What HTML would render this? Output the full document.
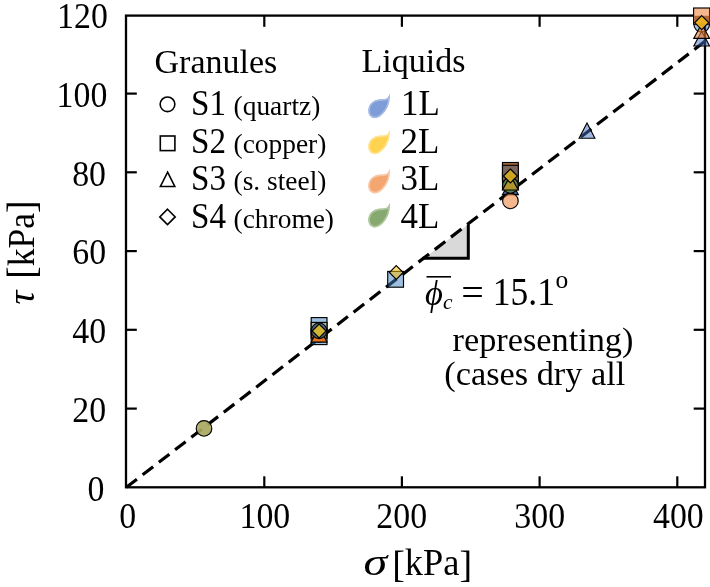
<!DOCTYPE html>
<html lang="en">
<head>
<meta charset="utf-8">
<title>Shear stress vs normal stress</title>
<style>
html,body{margin:0;padding:0;background:#fff;}
body{width:710px;height:587px;overflow:hidden;position:relative;}
svg{display:block;position:absolute;left:0;top:0;will-change:transform;}
text{font-family:"Liberation Serif","DejaVu Serif",serif;fill:#000;}
.it{font-style:italic;}
.mk{stroke:#000;stroke-width:1.15;stroke-linejoin:miter;}
</style>
</head>
<body>
<svg width="710" height="587" viewBox="0 0 710 587">
<rect x="0" y="0" width="710" height="587" fill="#fff"/>

<g id="slope">
<polygon points="424,258.3 468.3,258.3 468.3,224.2" fill="#d9d9d9"/>
<polyline points="422.5,258.3 468.3,258.3 468.3,224.5" fill="none" stroke="#000" stroke-width="3" stroke-linejoin="miter"/>
</g>
<line id="fit" x1="126.4" y1="487.3" x2="705" y2="41.3" stroke="#000" stroke-width="3.2" stroke-dasharray="13.3 7.19"/>
<rect id="frame" x="126" y="15.6" width="579" height="471.7" fill="none" stroke="#000" stroke-width="2.3"/>
<g id="ticks" stroke="#000" stroke-width="2.2">
<line x1="264.3" y1="487" x2="264.3" y2="476.3"/>
<line x1="264.3" y1="16" x2="264.3" y2="26.8"/>
<line x1="401.9" y1="487" x2="401.9" y2="476.3"/>
<line x1="401.9" y1="16" x2="401.9" y2="26.8"/>
<line x1="539.6" y1="487" x2="539.6" y2="476.3"/>
<line x1="539.6" y1="16" x2="539.6" y2="26.8"/>
<line x1="677.3" y1="487" x2="677.3" y2="476.3"/>
<line x1="677.3" y1="16" x2="677.3" y2="26.8"/>
<line x1="126" y1="408.6" x2="136.8" y2="408.6"/>
<line x1="705" y1="408.6" x2="693.7" y2="408.6"/>
<line x1="126" y1="329.8" x2="136.8" y2="329.8"/>
<line x1="705" y1="329.8" x2="693.7" y2="329.8"/>
<line x1="126" y1="251.1" x2="136.8" y2="251.1"/>
<line x1="705" y1="251.1" x2="693.7" y2="251.1"/>
<line x1="126" y1="172.3" x2="136.8" y2="172.3"/>
<line x1="705" y1="172.3" x2="693.7" y2="172.3"/>
<line x1="126" y1="93.6" x2="136.8" y2="93.6"/>
<line x1="705" y1="93.6" x2="693.7" y2="93.6"/>
</g>
<g id="ylabels">
<text transform="translate(107.8 28.2) scale(0.94 1)" font-size="36" text-anchor="end">120</text>
<text transform="translate(107.3 107.3) scale(0.94 1)" font-size="36" text-anchor="end">100</text>
<text transform="translate(106.0 186.0) scale(0.94 1)" font-size="36" text-anchor="end">80</text>
<text transform="translate(106.2 264.4) scale(0.94 1)" font-size="36" text-anchor="end">60</text>
<text transform="translate(106.2 343.1) scale(0.94 1)" font-size="36" text-anchor="end">40</text>
<text transform="translate(106.2 421.9) scale(0.94 1)" font-size="36" text-anchor="end">20</text>
<text transform="translate(104.3 500.6) scale(0.94 1)" font-size="36" text-anchor="end">0</text>
</g>
<g id="xlabels">
<text transform="translate(127.6 527.6) scale(0.94 1)" font-size="36" text-anchor="middle">0</text>
<text transform="translate(264.9 527.6) scale(0.94 1)" font-size="36" text-anchor="middle">100</text>
<text transform="translate(401.7 527.6) scale(0.94 1)" font-size="36" text-anchor="middle">200</text>
<text transform="translate(539.7 527.6) scale(0.94 1)" font-size="36" text-anchor="middle">300</text>
<text transform="translate(678.4 527.6) scale(0.94 1)" font-size="36" text-anchor="middle">400</text>
</g>
<text transform="translate(363.6 575.0) scale(1.3 1)" font-size="37" text-anchor="start" class='it'>σ</text>
<text transform="translate(392.2 575.2) scale(0.985 1)" font-size="37" text-anchor="start"><tspan dy="1.6" font-size="38.5">[</tspan><tspan dy="-1.6">kPa</tspan><tspan dy="1.6" font-size="38.5">]</tspan></text>
<text class="it" font-size="37" transform="translate(33.7 304.6) rotate(-90) scale(1.05 1)">τ</text>
<text font-size="37" transform="translate(33.7 278.8) rotate(-90) scale(0.96 1)"><tspan dy="1.6" font-size="39">[</tspan><tspan dy="-1.6">kPa</tspan><tspan dy="1.6" font-size="39">]</tspan></text>
<g id="granules">
<text font-size="34" x="154.5" y="72.9">Granules</text>
<circle cx="167.5" cy="104.3" r="7.35" fill="none" stroke="#000" stroke-width="1.6"/>
<rect x="160.3" y="136" width="14.6" height="14.6" fill="none" stroke="#000" stroke-width="1.6"/>
<polygon points="167.6,172.2 174.8,186.5 160.4,186.5" fill="none" stroke="#000" stroke-width="1.6"/>
<polygon points="167.5,209.2 175.2,216.9 167.5,224.6 159.8,216.9" fill="none" stroke="#000" stroke-width="1.6"/>
<text transform="translate(191.0 115.0) scale(0.92 1)" font-size="36" text-anchor="start">S1</text>
<text font-size="27.4" x="233.6" y="115.0">(quartz)</text>
<text transform="translate(191.0 152.7) scale(0.92 1)" font-size="36" text-anchor="start">S2</text>
<text font-size="27.4" x="233.6" y="152.7">(copper)</text>
<text transform="translate(191.0 190.3) scale(0.92 1)" font-size="36" text-anchor="start">S3</text>
<text font-size="27.4" x="233.6" y="190.3">(s. steel)</text>
<text transform="translate(191.0 228.0) scale(0.92 1)" font-size="36" text-anchor="start">S4</text>
<text font-size="27.4" x="233.6" y="228.0">(chrome)</text>
</g>
<g id="liquids">
<defs><clipPath id="dc"><path d="M21.5 0.3 C22.4 6 21.2 12 18 17 C15 22 10 25.4 6.5 25.2 C2.5 25 0 21.5 0.3 17 C0.6 12 4 8 9 6.8 C13 5.8 15.8 6.6 18 5.8 C20 5 20.9 3.2 21.5 0.3 Z"/></clipPath></defs>
<text font-size="34" x="361.5" y="71.8">Liquids</text>
<path transform="translate(368 93.0)" d="M21.5 0.3 C22.4 6 21.2 12 18 17 C15 22 10 25.4 6.5 25.2 C2.5 25 0 21.5 0.3 17 C0.6 12 4 8 9 6.8 C13 5.8 15.8 6.6 18 5.8 C20 5 20.9 3.2 21.5 0.3 Z" fill="#7d9cd8" stroke="#a9bce6" stroke-width="3.2" clip-path="url(#dc)"/>
<text transform="translate(401.0 115.0) scale(0.97 1)" font-size="36" text-anchor="start">1L</text>
<path transform="translate(368 129.1)" d="M21.5 0.3 C22.4 6 21.2 12 18 17 C15 22 10 25.4 6.5 25.2 C2.5 25 0 21.5 0.3 17 C0.6 12 4 8 9 6.8 C13 5.8 15.8 6.6 18 5.8 C20 5 20.9 3.2 21.5 0.3 Z" fill="#ffd24f" stroke="#ffe391" stroke-width="3.2" clip-path="url(#dc)"/>
<text transform="translate(400.6 152.7) scale(0.97 1)" font-size="36" text-anchor="start">2L</text>
<path transform="translate(368 168.2)" d="M21.5 0.3 C22.4 6 21.2 12 18 17 C15 22 10 25.4 6.5 25.2 C2.5 25 0 21.5 0.3 17 C0.6 12 4 8 9 6.8 C13 5.8 15.8 6.6 18 5.8 C20 5 20.9 3.2 21.5 0.3 Z" fill="#f4a671" stroke="#f8c9a8" stroke-width="3.2" clip-path="url(#dc)"/>
<text transform="translate(400.6 190.3) scale(0.97 1)" font-size="36" text-anchor="start">3L</text>
<path transform="translate(368 202.3)" d="M21.5 0.3 C22.4 6 21.2 12 18 17 C15 22 10 25.4 6.5 25.2 C2.5 25 0 21.5 0.3 17 C0.6 12 4 8 9 6.8 C13 5.8 15.8 6.6 18 5.8 C20 5 20.9 3.2 21.5 0.3 Z" fill="#86a96f" stroke="#b1c8a1" stroke-width="3.2" clip-path="url(#dc)"/>
<text transform="translate(400.6 228.0) scale(0.97 1)" font-size="36" text-anchor="start">4L</text>
</g>
<g id="annot">
<text transform="translate(425.0 304.6) scale(0.96 1)" font-size="36" text-anchor="start" class='it'>ϕ</text>
<text transform="translate(443.0 309.2) scale(1.0 1)" font-size="21.5" text-anchor="start" class='it'>c</text>
<text transform="translate(461.2 305.6) scale(1.0 1)" font-size="40" text-anchor="start">=</text>
<text transform="translate(492.8 304.8) scale(0.91 1)" font-size="39" text-anchor="start">15.1</text>
<text transform="translate(555.6 288.2) scale(1.0 1)" font-size="25.5" text-anchor="start">o</text>
<line x1="426.5" y1="276.8" x2="451" y2="276.8" stroke="#000" stroke-width="1.6"/>
<text font-size="34.3" x="452.5" y="351">representing)</text>
<text font-size="34.3" x="444.3" y="385">(cases dry all</text>
</g>
<g id="data">
<circle class="mk" cx="204.0" cy="428.4" r="7.8" fill="#aaa862" fill-opacity="0.92"/>
<rect class="mk" x="311.2" y="328.8" width="15.8" height="15.8" fill="#3e80c0" fill-opacity="0.5"/>
<rect class="mk" x="311.2" y="317.6" width="15.8" height="15.8" fill="#3e80c0" fill-opacity="0.5"/>
<rect class="mk" x="311.2" y="322.4" width="15.8" height="15.8" fill="#b4aca6" fill-opacity="0.8"/>
<circle class="mk" cx="319.1" cy="334.3" r="7.8" fill="#e8741c" fill-opacity="0.95"/>
<polygon class="mk" points="319.1,327.1 327.0,342.1 311.2,342.1" fill="#e8741c" fill-opacity="0.95"/>
<circle class="mk" cx="319.1" cy="330.8" r="7.8" fill="#46687c" fill-opacity="0.92"/>
<polygon class="mk" points="319.1,324.0 326.1,331.0 319.1,338.0 312.1,331.0" fill="#dcbc2c" fill-opacity="0.92"/>
<rect class="mk" x="387.7" y="271.4" width="15.8" height="15.8" fill="#3e80c0" fill-opacity="0.5"/>
<polygon class="mk" points="396.3,265.6 403.2,272.5 396.3,279.4 389.4,272.5" fill="#ffc000" fill-opacity="0.5"/>
<polygon class="mk" points="510.4,179.6 518.3,194.6 502.5,194.6" fill="#44558c" fill-opacity="0.95"/>
<circle class="mk" cx="510.4" cy="200.9" r="7.8" fill="#ed7d31" fill-opacity="0.55"/>
<rect class="mk" x="502.5" y="173.9" width="15.8" height="15.8" fill="#7c655a" fill-opacity="1"/>
<rect class="mk" x="502.5" y="162.5" width="15.8" height="15.8" fill="#a86c42" fill-opacity="1"/>
<rect class="mk" x="502.5" y="165.3" width="15.8" height="15.8" fill="#7c655a" fill-opacity="1"/>
<circle class="mk" cx="510.4" cy="185.4" r="7.8" fill="#5c8453" fill-opacity="1"/>
<polygon class="mk" points="510.4,175.5 518.3,190.0 502.5,190.0" fill="#b8982c" fill-opacity="0.92"/>
<polygon class="mk" points="510.4,169.0 517.4,176.0 510.4,183.0 503.4,176.0" fill="#d2aa22" fill-opacity="0.95"/>
<polygon class="mk" points="587.0,122.9 594.9,138.2 579.1,138.2" fill="#4472c4" fill-opacity="0.5"/>
<circle class="mk" cx="701.7" cy="24.3" r="7.8" fill="#4472c4" fill-opacity="0.45"/>
<polygon class="mk" points="701.7,31.2 709.6,46.0 693.8,46.0" fill="#4472c4" fill-opacity="0.5"/>
<rect class="mk" x="693.6" y="8.0" width="16.2" height="16.2" fill="#f4b78e" fill-opacity="1"/>
<rect x="694.2" y="15.8" width="15" height="7.8" fill="#a8602c" fill-opacity="0.85"/>
<polygon class="mk" points="701.7,23.8 709.6,38.4 693.8,38.4" fill="#ed7d31" fill-opacity="0.6"/>
<polygon class="mk" points="701.7,15.6 708.7,22.6 701.7,29.6 694.7,22.6" fill="#f0b41e" fill-opacity="0.92"/>
</g>
</svg>
</body>
</html>
